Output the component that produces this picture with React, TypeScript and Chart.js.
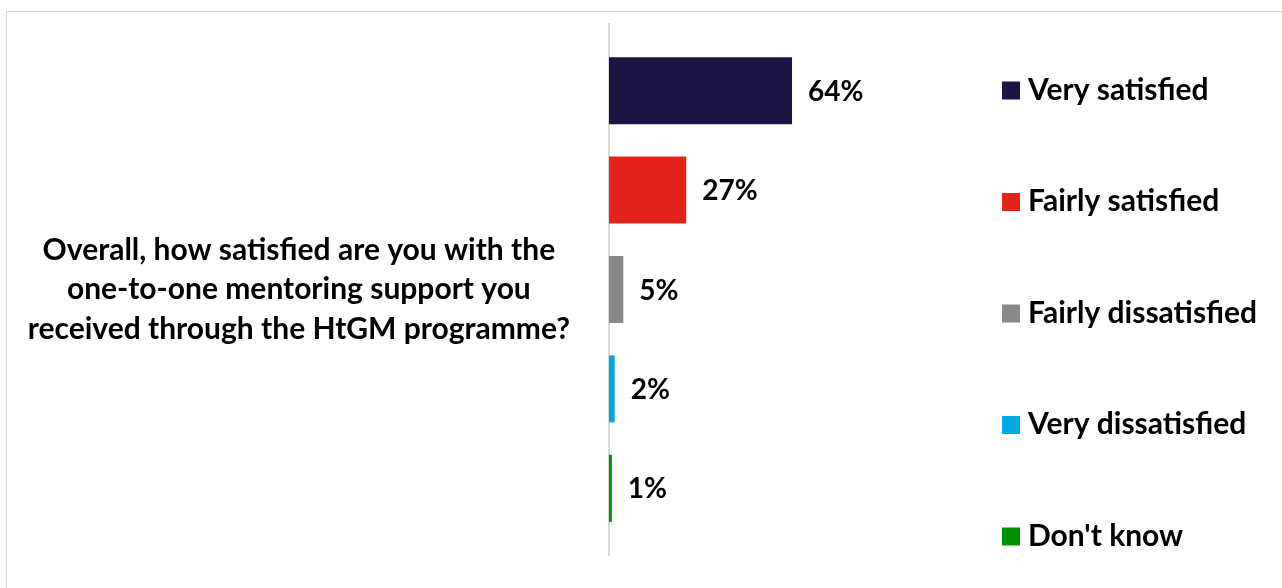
import { useEffect, useRef } from "react";
import { Chart, registerables } from "chart.js";

Chart.register(...registerables);

const questionLines = [
  "Overall, how satisfied are you with the",
  "one-to-one mentoring support you",
  "received through the HtGM programme?",
];
const seriesLabels = [
  "Very satisfied",
  "Fairly satisfied",
  "Fairly dissatisfied",
  "Very dissatisfied",
  "Don't know",
];
const seriesValues = [64, 27, 5, 2, 1];
const seriesColors = ["#1E1446", "#E32219", "#898989", "#00A8E0", "#009000"];

const FONT = "Lato, 'Open Sans', sans-serif";
const LABEL_SIZE = 28;
const LEGEND_SIZE = 30;
const QUESTION_SIZE = 30;

const valueLabelPlugin = {
  id: "valueLabels",
  afterDatasetsDraw(chart: any) {
    const ctx = chart.ctx;
    ctx.save();
    ctx.font = `bold ${LABEL_SIZE}px ${FONT}`;
    ctx.fillStyle = "#000";
    ctx.textAlign = "left";
    ctx.textBaseline = "alphabetic";
    chart.data.datasets.forEach((ds: any, i: number) => {
      const meta = chart.getDatasetMeta(i);
      const bar = meta.data[0];
      if (!bar) return;
      ctx.fillText(`${ds.data[0]}%`, bar.x + 16, bar.y + LABEL_SIZE * 0.36);
    });
    ctx.restore();
  },
};

const sideLegendPlugin = {
  id: "sideLegend",
  afterDraw(chart: any) {
    const ctx = chart.ctx;
    const area = chart.chartArea;
    const x = area.right + 107;
    const step = 111.5;
    const top = area.top + 65;
    ctx.save();
    ctx.font = `bold ${LEGEND_SIZE}px ${FONT}`;
    ctx.textAlign = "left";
    ctx.textBaseline = "alphabetic";
    chart.data.datasets.forEach((ds: any, i: number) => {
      const cy = top + i * step;
      ctx.fillStyle = ds.backgroundColor;
      ctx.fillRect(x, cy - 7.5, 18, 18);
      ctx.fillStyle = "#000";
      ctx.fillText(ds.label, x + 26, cy + LEGEND_SIZE * 0.36);
    });
    ctx.restore();
  },
};

export default function App() {
  const canvasRef = useRef<HTMLCanvasElement | null>(null);

  useEffect(() => {
    if (!canvasRef.current) return;
    const chart = new Chart(canvasRef.current, {
      type: "bar",
      data: {
        labels: [questionLines],
        datasets: seriesLabels.map((label, i) => ({
          label,
          data: [seriesValues[i]],
          backgroundColor: seriesColors[i],
          borderWidth: 0,
          categoryPercentage: 0.936,
          barPercentage: 0.674,
        })),
      },
      options: {
        indexAxis: "y",
        responsive: false,
        maintainAspectRatio: false,
        animation: false,
        devicePixelRatio: 1,
        layout: { padding: { top: 24, bottom: 33, left: 0, right: 387 } },
        plugins: {
          legend: { display: false },
          tooltip: { enabled: false },
          title: { display: false },
        },
        scales: {
          x: {
            display: false,
            min: 0,
            max: 100,
            grid: { display: false },
          },
          y: {
            grid: { display: false, drawTicks: false },
            border: { display: true, color: "#D9D9D9", width: 2 },
            ticks: {
              color: "#000",
              crossAlign: "center",
              padding: 39,
              font: {
                family: FONT,
                size: QUESTION_SIZE,
                weight: "bold",
                lineHeight: 39.5 / QUESTION_SIZE,
              },
            },
            afterFit(scale: any) {
              scale.width = 609;
              scale.paddingTop = 0;
              scale.paddingBottom = 0;
            },
          },
        },
      },
      plugins: [valueLabelPlugin, sideLegendPlugin],
    } as any);
    return () => chart.destroy();
  }, []);

  return (
    <div style={{ position: "fixed", left: 0, top: 0, width: 1282, height: 588, overflow: "hidden", background: "#fff" }}>
      <div
        style={{
          position: "absolute",
          left: 6,
          top: 11,
          width: 2000,
          height: 2000,
          border: "1px solid #D9D9D9",
          boxSizing: "border-box",
        }}
      />
      <canvas
        ref={canvasRef}
        width={1282}
        height={588}
        style={{ position: "absolute", left: 0, top: 0, width: 1282, height: 588 }}
      />
    </div>
  );
}
